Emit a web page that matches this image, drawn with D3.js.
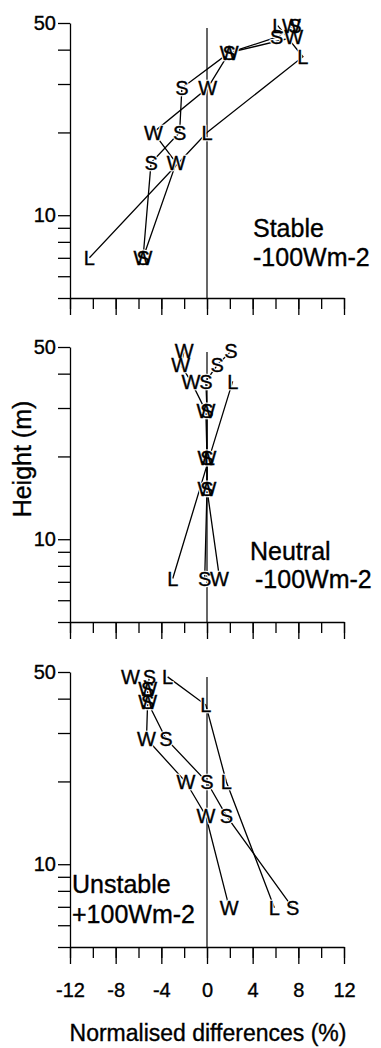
<!DOCTYPE html>
<html>
<head>
<meta charset="utf-8">
<script src="https://cdn.jsdelivr.net/npm/d3@7"></script>
<style>
body { margin: 0; background: #fff; }
svg text { font-family: "Liberation Sans", Arial, Helvetica, sans-serif; fill: #000; stroke: #000; stroke-width: 0.35px; }
</style>
</head>
<body>
<script>
// heights (m) and normalised differences (%), [diff, height]
var stableW = [[-5.6, 7], [-2.7, 15.5], [-4.7, 20], [0.05, 29], [1.95, 39], [7.6, 44.4], [7.4, 48.9]];
var stableS = [[-5.6, 7], [-4.9, 15.5], [-2.4, 20], [-2.2, 29], [1.95, 39], [6.1, 44.4], [7.7, 48.9]];
var stableL = [[-10.3, 7], [0, 20], [8.4, 37.7], [6.2, 48.9]];

var neutralW = [[1.1, 7.2], [0, 15.2], [0, 19.8], [-0.1, 29.2], [-1.4, 37.5], [-2.3, 43], [-2.0, 48.3]];
var neutralS = [[-0.2, 7.2], [0, 15.2], [0, 19.8], [0, 29.2], [-0.1, 37.5], [0.9, 43], [2.1, 48.3]];
var neutralL = [[-3.0, 7.2], [0.2, 19.8], [2.25, 37.5]];

var unstableW = [[1.95, 6.95], [-0.1, 15], [-1.85, 19.9], [-5.3, 28.6], [-5.2, 38.9], [-5.2, 43.5], [-6.7, 48]];
var unstableS = [[7.5, 6.95], [1.7, 15], [0, 19.9], [-3.6, 28.6], [-5.2, 38.9], [-5.2, 43.5], [-5.05, 48]];
var unstableL = [[5.9, 6.95], [1.7, 19.9], [-0.1, 37.9], [-3.45, 48]];

var panelNames = ["Stable", "Neutral", "Unstable"];
var panelFlux = ["-100Wm-2", "-100Wm-2", "+100Wm-2"];

var heightTicks = [5, 6, 7, 8, 9, 10, 20, 30, 40, 50];
var heightLabels = [10, 50];
var diffTicks = [-12, -10, -8, -6, -4, -2, 0, 2, 4, 6, 8, 10, 12];
var diffLabels = [-12, -8, -4, 0, 4, 8, 12];

var panels = [
  { series: [["W", stableW], ["S", stableS], ["L", stableL]], top: 23 },
  { series: [["W", neutralW], ["S", neutralS], ["L", neutralL]], top: 347 },
  { series: [["W", unstableW], ["S", unstableS], ["L", unstableL]], top: 672 }
];
// where the regime text sits inside each panel
var notePos = [
  { x: 253, y1: 214, x2: 253, y2: 243 },
  { x: 250, y1: 213, x2: 255, y2: 241 },
  { x: 72, y1: 221, x2: 72, y2: 251 }
];

var W = 381, H = 1048;
var panelH = 275;

var svg = d3.select("body").append("svg")
  .attr("width", W)
  .attr("height", H);

var x = d3.scaleLinear()
  .domain([-12, 12])
  .range([70, 344]);

panels.forEach(function(p, i) {
  var g = svg.append("g").attr("transform", "translate(0," + p.top + ")");

  var y = d3.scaleLog()
    .domain([5, 50])
    .range([panelH, 0]);

  // y axis
  var yAxis = g.append("g")
    .attr("transform", "translate(" + x(-12) + ",0)")
    .call(d3.axisLeft(y)
      .tickValues(heightTicks)
      .tickSize(12)
      .tickSizeOuter(0)
      .tickPadding(2)
      .tickFormat(function(d) { return heightLabels.indexOf(d) >= 0 ? d : ""; }));
  yAxis.attr("font-size", null).attr("font-family", null);
  yAxis.selectAll("text").style("font-size", "20px");
  yAxis.selectAll("line, path").attr("stroke", "#000").attr("stroke-width", 1.3);

  // x axis, minor then major ticks
  var xAxis = g.append("g")
    .attr("transform", "translate(0," + panelH + ")")
    .call(d3.axisBottom(x)
      .tickValues(diffTicks)
      .tickSize(11)
      .tickSizeOuter(0)
      .tickFormat(""));
  xAxis.selectAll("line, path").attr("stroke", "#000").attr("stroke-width", 1.3);

  var xMajor = g.append("g")
    .attr("transform", "translate(0," + panelH + ")")
    .call(d3.axisBottom(x)
      .tickValues(diffLabels)
      .tickSize(17)
      .tickPadding(19)
      .tickFormat(function(d) { return i == 2 ? String(d) : ""; }));
  xMajor.attr("font-size", null).attr("font-family", null);
  xMajor.select(".domain").remove();
  xMajor.selectAll("line").attr("stroke", "#000").attr("stroke-width", 1.3);
  xMajor.selectAll("text").style("font-size", "20px");

  // zero line
  g.append("line")
    .attr("x1", x(0)).attr("x2", x(0))
    .attr("y1", y(48)).attr("y2", y(5))
    .attr("stroke", "#000")
    .attr("stroke-width", 1.2);

  var line = d3.line()
    .x(function(d) { return x(d[0]); })
    .y(function(d) { return y(d[1]); });

  g.selectAll(".prof")
    .data(p.series)
    .enter().append("path")
    .attr("class", "prof")
    .attr("d", function(s) { return line(s[1]); })
    .attr("fill", "none")
    .attr("stroke", "#000")
    .attr("stroke-width", 1.3);

  var pts = [];
  p.series.forEach(function(s) {
    s[1].forEach(function(d) { pts.push({ k: s[0], v: d[0], h: d[1] }); });
  });

  // white halo first so lines stop short of the letters
  g.selectAll(".halo")
    .data(pts)
    .enter().append("text")
    .attr("class", "halo")
    .attr("x", function(d) { return x(d.v); })
    .attr("y", function(d) { return y(d.h); })
    .attr("dy", "0.36em")
    .attr("text-anchor", "middle")
    .style("font-size", "20px")
    .style("fill", "#fff")
    .style("stroke", "#fff")
    .style("stroke-width", 2.5)
    .text(function(d) { return d.k; });

  g.selectAll(".mark")
    .data(pts)
    .enter().append("text")
    .attr("class", "mark")
    .attr("x", function(d) { return x(d.v); })
    .attr("y", function(d) { return y(d.h); })
    .attr("dy", "0.36em")
    .attr("text-anchor", "middle")
    .style("font-size", "20px")
    .text(function(d) { return d.k; });

  var n = notePos[i];
  g.append("text")
    .attr("x", n.x).attr("y", n.y1)
    .style("font-size", "25px")
    .text(panelNames[i]);
  g.append("text")
    .attr("x", n.x2).attr("y", n.y2)
    .style("font-size", "25px")
    .text(panelFlux[i]);
});

svg.append("text")
  .attr("transform", "translate(31,459) rotate(-90)")
  .attr("text-anchor", "middle")
  .style("font-size", "25px")
  .text("Height (m)");

svg.append("text")
  .attr("x", 208)
  .attr("y", 1041)
  .attr("text-anchor", "middle")
  .style("font-size", "23px")
  .text("Normalised differences (%)");
</script>
</body>
</html>
